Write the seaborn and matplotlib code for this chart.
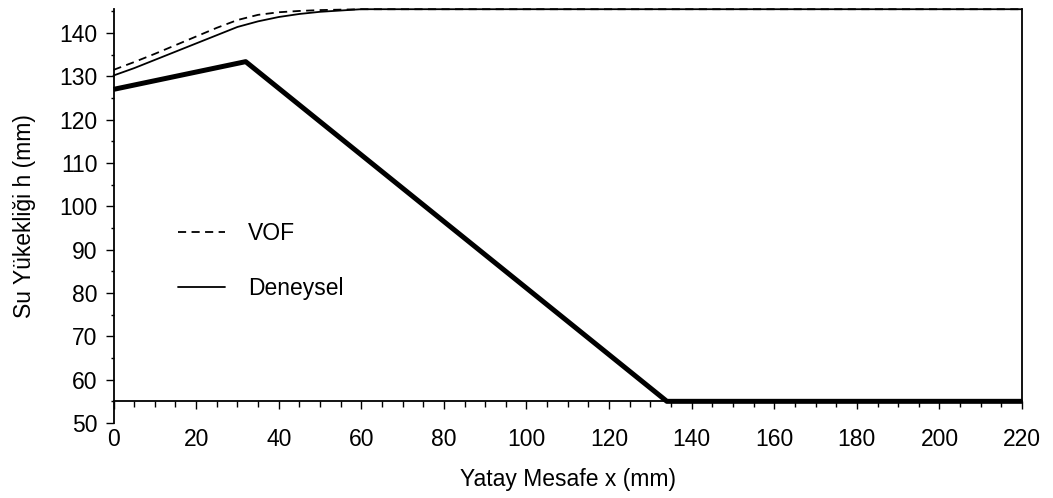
import matplotlib
matplotlib.use("Agg")
import matplotlib.pyplot as plt
import seaborn as sns
import pandas as pd
from matplotlib.ticker import MultipleLocator
from matplotlib.lines import Line2D

# Data
x_profile = [0, 5, 10, 15, 20, 25, 30, 35, 40, 45, 50, 55, 60, 220]
vof = [131.5, 133.3, 135.2, 137.2, 139.2, 141.2, 143.0, 144.2, 144.8, 145.1, 145.3, 145.4, 145.5, 145.5]
deneysel = [130.2, 131.9, 133.8, 135.7, 137.6, 139.5, 141.4, 142.7, 143.7, 144.4, 144.9, 145.2, 145.5, 145.5]
bed_x = [0, 32, 134, 220]
bed_y = [127, 133.4, 55, 55]

sns.set_style("white")
plt.rcParams['font.family'] = ['Liberation Sans', 'DejaVu Sans']
plt.rcParams['text.color'] = 'black'
plt.rcParams['axes.labelcolor'] = 'black'
plt.rcParams['xtick.color'] = 'black'
plt.rcParams['ytick.color'] = 'black'

fig = plt.figure(figsize=(10.53, 4.98), dpi=100)
ax = fig.add_axes([0.1078, 0.1506, 0.9706 - 0.1078, 0.9815 - 0.1506])

df_v = pd.DataFrame({"x": x_profile, "y": vof})
df_d = pd.DataFrame({"x": x_profile, "y": deneysel})
df_b = pd.DataFrame({"x": bed_x, "y": bed_y})

sns.lineplot(data=df_v, x="x", y="y", ax=ax, color="black", lw=1.3,
             dashes=False, linestyle=(0, (4.5, 3)), clip_on=False)
sns.lineplot(data=df_d, x="x", y="y", ax=ax, color="black", lw=1.3, clip_on=False)
sns.lineplot(data=df_b, x="x", y="y", ax=ax, color="black", lw=3.6, clip_on=False,
             solid_capstyle="butt")

ax.set_xlim(0, 220)
ax.set_ylim(50, 145.5)

ax.spines['top'].set_visible(False)
ax.spines['bottom'].set_position(('data', 55))
ax.spines['right'].set_bounds(55, 145.5)
for s in ax.spines.values():
    s.set_color('black')
    s.set_linewidth(1.3)

ax.xaxis.set_major_locator(MultipleLocator(20))
ax.xaxis.set_minor_locator(MultipleLocator(5))
ax.yaxis.set_major_locator(MultipleLocator(10))
ax.yaxis.set_minor_locator(MultipleLocator(5))
ax.tick_params(axis='x', which='major', direction='out', length=5.5, width=1, pad=14,
               labelsize=16.5, bottom=True, colors='black')
ax.tick_params(axis='x', which='minor', direction='out', length=4, width=1, bottom=True, colors='black')
ax.tick_params(axis='y', which='major', direction='out', length=5.5, width=1, pad=6,
               labelsize=16.5, left=True, right=False, colors='black')
ax.tick_params(axis='y', which='minor', direction='out', length=2.5, width=1, left=True,
               right=False, colors='black')

ax.set_xlabel("Yatay Mesafe x (mm)", fontsize=16.5, labelpad=12, color='black')
ax.set_ylabel("Su Yükekliği h (mm)", fontsize=16.5, labelpad=17, color='black')

handles = [Line2D([0], [0], color='black', lw=1.3, linestyle=(0, (4.5, 3))),
           Line2D([0], [0], color='black', lw=1.3)]
leg = ax.legend(handles, ["VOF", "Deneysel"], loc='upper left',
                bbox_to_anchor=(0.048, 0.535), frameon=False, fontsize=16.5,
                handlelength=2.05, labelspacing=1.4, handletextpad=1.0,
                labelcolor='black')

fig.savefig("out.png", dpi=100)
